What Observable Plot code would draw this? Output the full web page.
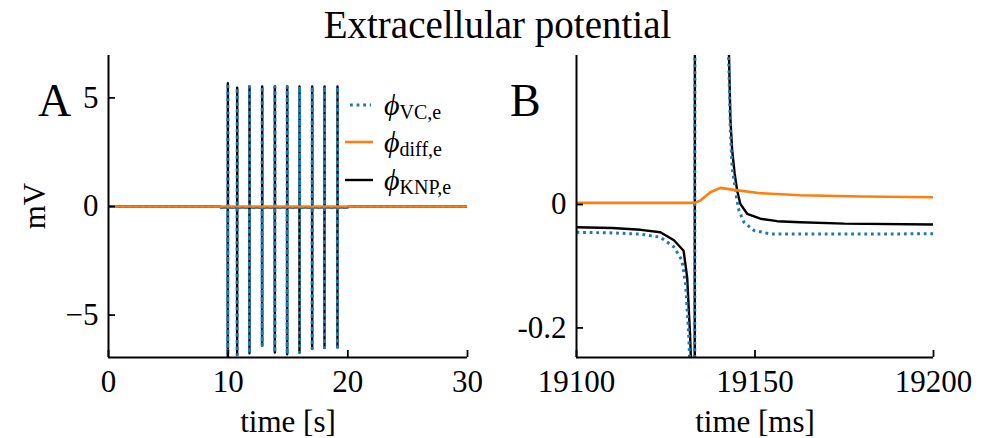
<!DOCTYPE html>
<html>
<head>
<meta charset="utf-8">
<script src="https://cdn.jsdelivr.net/npm/d3@7"></script>
<script src="https://cdn.jsdelivr.net/npm/@observablehq/plot@0.6"></script>
<style>
html, body { margin: 0; padding: 0; background: #fff; }
#wrap { position: relative; width: 987px; height: 438px; font-family: "Liberation Serif", "DejaVu Serif", serif; color: #000; overflow: hidden; }
#title { height: 50px; line-height: 50px; font-size: 39px; text-align: center; padding-left: 8px; box-sizing: border-box; width: 987px; }
#row { display: flex; }
.panel { position: absolute; font-size: 46px; line-height: 46px; }
.leg { position: absolute; display: flex; align-items: center; height: 36px; }
.leg svg { display: block; }
.phi { font-style: italic; font-size: 30px; margin-left: 9px; }
.sub { font-size: 20px; position: relative; top: 7px; }
</style>
</head>
<body>
<div id="wrap">
  <div id="title">Extracellular potential</div>
  <div id="row"><div id="pa"></div><div id="pb"></div></div>
  <div class="panel" style="left:38px; top:78px;">A</div>
  <div class="panel" style="left:510px; top:78px;">B</div>
  <div id="legend"></div>
</div>
<script>
// ---------- Panel A data (time in s, potential in mV) ----------
const spikeTimesA = [9.97, 10.75, 11.78, 12.84, 13.90, 14.93, 15.96, 17.02, 18.05, 19.133];
const spikeMaxA   = [5.67, 5.47, 5.52, 5.52, 5.52, 5.52, 5.52, 5.52, 5.52, 5.52];
const spikeMinA   = [-7.3, -6.83, -6.76, -6.40, -6.72, -6.80, -6.72, -6.55, -6.50, -6.48];
const baseTimesA  = [0, 9.35, 9.40, 20.00, 20.05, 30];
const baseKnpA    = [0, 0, -0.04, -0.04, 0, 0];
const baseVcA     = [0, 0, -0.045, -0.045, 0, 0];
const diffTimesA  = [0, 30];
const diffValsA   = [0, 0];
const xTicksA = [0, 10, 20, 30];
const yTicksA = [-5, 0, 5];

// ---------- Panel B data (time in ms, potential in mV) ----------
const knpTimesB = [19100, 19110, 19118, 19123.5, 19127.3, 19130, 19131, 19131.8, 19132.1, 19132.6, 19133.6, 19135, 19138, 19141, 19142.7, 19143.1, 19143.6, 19144.3, 19145, 19145.9, 19147.8, 19151.5, 19156.2, 19162.7, 19175, 19200];
const knpValsB  = [-0.0368, -0.038, -0.041, -0.045, -0.058, -0.075, -0.118, -0.21, -0.26, -6.5, 5.5, 2.0, 0.9, 0.45, 0.245, 0.14, 0.088, 0.05, 0.0227, 0.001, -0.015, -0.023, -0.027, -0.0287, -0.031, -0.0324];
const vcTimesB  = [19100, 19110, 19118, 19123.5, 19127.3, 19129.5, 19130.6, 19131.5, 19132.0, 19132.6, 19133.6, 19135, 19138, 19141, 19142.6, 19143.1, 19143.6, 19144.8, 19145.5, 19146.9, 19149.7, 19154.3, 19170, 19200];
const vcValsB   = [-0.045, -0.046, -0.048, -0.053, -0.069, -0.09, -0.13, -0.22, -0.30, -6.5, 5.5, 2.0, 0.9, 0.45, 0.245, 0.12, 0.06, 0.012, -0.0097, -0.0287, -0.042, -0.0476, -0.0478, -0.0475];
const diffTimesB = [19100, 19120, 19133.1, 19134.7, 19137.5, 19140.3, 19144.1, 19151.5, 19162.7, 19180, 19200];
const diffValsB  = [0.0027, 0.0027, 0.0027, 0.0065, 0.020, 0.027, 0.0238, 0.0184, 0.0151, 0.013, 0.0119];
const xTicksB = [19100, 19150, 19200];
const yTicksB = [-0.2, 0];

// ---------- Series ----------
const seriesNames = ["VC,e", "diff,e", "KNP,e"];
const COL = {vc: "#1f77b4", diff: "#ff7f0e", knp: "#000000"};

// ---------- Build tables ----------
function zip(ts, vs) { return ts.map((t, i) => ({t, v: vs[i]})); }
function spikeSeries(baseT, baseV, sT, sMax, sMin) {
  const base = zip(baseT, baseV);
  const baseAt = t => {
    for (let i = 1; i < base.length; i++) if (t <= base[i].t) {
      const a = base[i - 1], b = base[i];
      return a.v + (b.v - a.v) * (t - a.t) / (b.t - a.t);
    }
    return base[base.length - 1].v;
  };
  const pts = base.slice();
  sT.forEach((t, i) => {
    const b = baseAt(t);
    pts.push({t: t - 0.004, v: b}, {t: t, v: sMin[i]}, {t: t + 0.004, v: sMax[i]}, {t: t + 0.012, v: b});
  });
  return pts.sort((a, b) => a.t - b.t);
}
const knpA = spikeSeries(baseTimesA, baseKnpA, spikeTimesA, spikeMaxA, spikeMinA);
const vcA = spikeSeries(baseTimesA, baseVcA, spikeTimesA, spikeMaxA, spikeMinA);
const diffA = zip(diffTimesA, diffValsA);
const knpB = zip(knpTimesB, knpValsB);
const vcB = zip(vcTimesB, vcValsB);
const diffB = zip(diffTimesB, diffValsB);

const FONT = "Liberation Serif, DejaVu Serif, serif";
const H = 388, MT = 5, MB = 81;

function panel({width, ml, mr, xDomain, yDomain, xTicks, yTicks, yFmt, xLabel, knp, vc, diff}) {
  return Plot.plot({
    width, height: H, marginTop: MT, marginBottom: MB, marginLeft: ml, marginRight: mr,
    style: {fontFamily: FONT, fontSize: "31px", background: "transparent", overflow: "visible", color: "#000"},
    x: {domain: xDomain},
    y: {domain: yDomain},
    marks: [
      Plot.line(knp, {x: "t", y: "v", stroke: COL.knp, strokeWidth: 2.4, clip: true}),
      Plot.line(vc, {x: "t", y: "v", stroke: COL.vc, strokeWidth: 3, strokeDasharray: "2.8,3.8", strokeLinecap: "butt", clip: true}),
      Plot.line(diff, {x: "t", y: "v", stroke: COL.diff, strokeWidth: 2.6, clip: true}),
      Plot.ruleX([xDomain[0]], {stroke: "#000", strokeWidth: 2}),
      Plot.ruleY([yDomain[0]], {stroke: "#000", strokeWidth: 2}),
      Plot.axisX({ticks: xTicks, tickSize: 7, dy: -7, tickPadding: 12, strokeWidth: 1.8, label: null, tickFormat: d => String(d), fontSize: 31}),
      Plot.axisY({ticks: yTicks, tickSize: 7, dx: 7, tickPadding: 10, strokeWidth: 1.8, label: null, tickFormat: yFmt, fontSize: 31}),
      Plot.text([xLabel], {frameAnchor: "bottom", lineAnchor: "bottom", dy: 74, fontSize: 31, text: d => d}),
    ]
  });
}

const plotA = panel({
  width: 490, ml: 108, mr: 23, xDomain: [0, 30], yDomain: [-6.95, 6.95],
  xTicks: xTicksA, yTicks: yTicksA, yFmt: d => d < 0 ? "\u2212" + Math.abs(d) : String(d),
  xLabel: "time [s]", knp: knpA, vc: vcA, diff: diffA
});
document.getElementById("pa").appendChild(plotA);

const plotB = panel({
  width: 497, ml: 86, mr: 54, xDomain: [19100, 19200], yDomain: [-0.248, 0.2416],
  xTicks: xTicksB, yTicks: yTicksB, yFmt: d => d === 0 ? "0" : String(d),
  xLabel: "time [ms]", knp: knpB, vc: vcB, diff: diffB
});
document.getElementById("pb").appendChild(plotB);

// mV label as real SVG text in panel A
{
  const svg = d3.select(plotA.tagName.toLowerCase() === "svg" ? plotA : plotA.querySelector("svg"));
  svg.append("text")
    .attr("transform", `translate(35, ${MT + (H - MT - MB) / 2}) rotate(-90)`)
    .attr("text-anchor", "middle").attr("dy", "0.32em")
    .attr("font-size", 31).attr("font-family", FONT).attr("fill", "#000")
    .text("mV");
}

// Legend
const legendY = [105, 142, 180];
const swatch = [
  {c: COL.vc, x1: 7, x2: 28, dash: "2.8,3.8", w: 3},
  {c: COL.diff, x1: 2, x2: 30, dash: null, w: 2.6},
  {c: COL.knp, x1: 2, x2: 30, dash: null, w: 2.4}
];
const leg = document.getElementById("legend");
seriesNames.forEach((name, i) => {
  const row = document.createElement("div");
  row.className = "leg";
  row.style.left = "343px";
  row.style.top = (legendY[i] - 18) + "px";
  const s = swatch[i];
  row.innerHTML = `<svg width="32" height="8"><line x1="${s.x1}" x2="${s.x2}" y1="4" y2="4" stroke="${s.c}" stroke-width="${s.w}" ${s.dash ? `stroke-dasharray="${s.dash}"` : ""} stroke-linecap="butt"/></svg>` +
    `<span class="phi">\u03D5</span><span class="sub">${name}</span>`;
  leg.appendChild(row);
});
</script>
</body>
</html>
